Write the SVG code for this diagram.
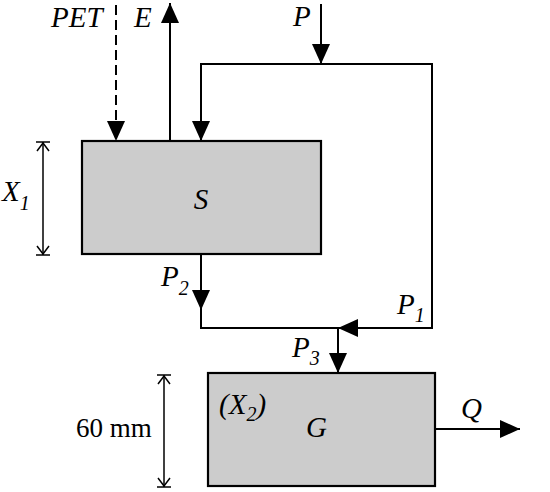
<svg xmlns="http://www.w3.org/2000/svg" width="550" height="492" viewBox="0 0 550 492">
<style>
.box{fill:#cccccc;stroke:#000;stroke-width:2.2}
.ln{fill:none;stroke:#000;stroke-width:2}
.dim{fill:none;stroke:#000;stroke-width:1.5}
.lbl{font-family:"Liberation Serif","Times New Roman",serif;font-style:italic;font-size:29px;fill:#000}
.sub{font-size:20px}
.txt{font-family:"Liberation Serif","Times New Roman",serif;font-size:27px;fill:#000}
</style>
<defs>
<marker id="ah" viewBox="0 0 20 18" refX="20" refY="9" markerWidth="20" markerHeight="18" markerUnits="userSpaceOnUse" orient="auto">
<path d="M0,0 L20,9 L0,18 z" fill="#000"/>
</marker>
</defs>
<rect width="550" height="492" fill="#fff"/>
<g id="connectors">
<line class="ln" x1="116" y1="5" x2="116" y2="141" stroke-dasharray="10,5" marker-end="url(#ah)"/>
<line class="ln" x1="170" y1="141" x2="170" y2="3" marker-end="url(#ah)"/>
<line class="ln" x1="321" y1="4" x2="321" y2="64" marker-end="url(#ah)"/>
<path class="ln" d="M321,64 L201,64 L201,141" marker-end="url(#ah)"/>
<path class="ln" d="M321,64 L432,64 L432,328 L338,328" marker-end="url(#ah)"/>
<line class="ln" x1="201" y1="254" x2="201" y2="310" marker-end="url(#ah)"/>
<path class="ln" d="M201,306 L201,328 L340,328"/>
<line class="ln" x1="338" y1="328" x2="338" y2="373" marker-end="url(#ah)"/>
<line class="ln" x1="435" y1="429" x2="520" y2="429" marker-end="url(#ah)"/>
</g>
<g id="S">
<rect class="box" x="82" y="141" width="239" height="113"/>
<text class="lbl" x="201" y="209" text-anchor="middle">S</text>
</g>
<g id="G">
<rect class="box" x="208" y="373" width="227" height="113"/>
<text class="lbl" x="306" y="437">G</text>
<text class="lbl" x="219" y="414">(X<tspan class="sub" dy="7">2</tspan><tspan dy="-7">)</tspan></text>
</g>
<g id="dim-X1">
<line class="dim" x1="43" y1="142" x2="43" y2="255"/>
<line class="dim" x1="36" y1="142" x2="50" y2="142"/>
<line class="dim" x1="36" y1="255" x2="50" y2="255"/>
<polyline class="dim" points="37,151 43,143 49,151"/>
<polyline class="dim" points="37,246 43,254 49,246"/>
<text class="lbl" x="2" y="201">X<tspan class="sub" dy="9">1</tspan></text>
</g>
<g id="dim-60">
<line class="dim" x1="164" y1="375" x2="164" y2="487"/>
<line class="dim" x1="157" y1="375" x2="171" y2="375"/>
<line class="dim" x1="157" y1="487" x2="171" y2="487"/>
<polyline class="dim" points="158,384 164,376 170,384"/>
<polyline class="dim" points="158,478 164,486 170,478"/>
<text class="txt" x="76" y="437">60 mm</text>
</g>
<g id="labels">
<text class="lbl" x="51" y="27">PET</text>
<text class="lbl" x="134" y="27">E</text>
<text class="lbl" x="293" y="26">P</text>
<text class="lbl" x="161" y="286">P<tspan class="sub" dy="9">2</tspan></text>
<text class="lbl" x="397" y="314">P<tspan class="sub" dy="8">1</tspan></text>
<text class="lbl" x="292" y="357">P<tspan class="sub" dy="8">3</tspan></text>
<text class="lbl" x="461" y="418">Q</text>
</g>
</svg>
